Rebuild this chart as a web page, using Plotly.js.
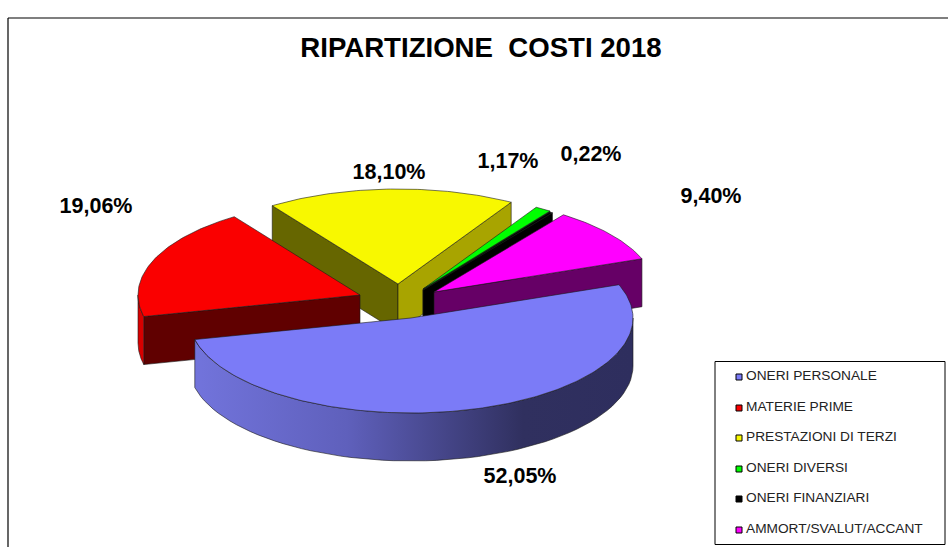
<!DOCTYPE html>
<html><head><meta charset="utf-8">
<script src="https://cdn.plot.ly/plotly-3.0.1.min.js"></script>
<style>html,body{margin:0;padding:0;background:#fff;overflow:hidden}</style>
</head><body><div id="chart" style="width:948px;height:547px"></div>
<script>
// Data
const categories = ["ONERI PERSONALE","MATERIE PRIME","PRESTAZIONI DI TERZI","ONERI DIVERSI","ONERI FINANZIARI","AMMORT/SVALUT/ACCANT"];
const shares = [52.05,19.06,18.10,1.17,0.22,9.40];

// Styles
const topColors  = ["#7B7BF7","#FA0000","#F8F800","#00FF00","#000000","#FF00FF"];
const cutColors  = ["#3A3A78","#600000","#666600","#006600","#000000","#660066"];
const endCutColors = ["#3A3A78","#600000","#A8A400","#006600","#000000","#660066"];
const arcColors  = ["#7B7BF7","#D80000","#A8A400","#00A000","#000000","#A000A0"];

// Geometry (page pixels): each exploded slice's own apex
const apexX = [411,360,398,423,423,434];
const apexY = [318,295,284,289,290,292];
const RX = 222, RY = 95, DEPTH = 48, START = -20.5;
const labelX = [520,96,389,508,591,711];
const labelY = [478,208,174,163,156,198];
const legendMarkX = 739, legendTextX = 746;
const legendY = [377,408,438,469,499,530];
const labelFont = 'Liberation Sans';

const rad = d => d*Math.PI/180;
const px = (i,a) => apexX[i] + RX*Math.cos(rad(a));
const py = (i,a) => apexY[i] + RY*Math.sin(rad(a));
const poly = (color, xs, ys, extra) => Object.assign({
  type:'scatter', mode:'lines', x:xs, y:ys, fill:'toself', fillcolor:color,
  line:{color:'#1a1a1a', width:0.6}, hoverinfo:'skip', showlegend:false
}, extra||{});

const traces = [];
const total = shares.reduce((s,v)=>s+v,0);
let ang = START;
const spans = shares.map(v => { const a0 = ang; ang += v/total*360; return [a0, ang]; });

// painter order: back slices first
[2,3,4,5,1,0].forEach(i => {
  const [a0,a1] = spans[i];
  const cx = apexX[i], cy = apexY[i];
  const cut = (a, color) => {
    const ex = px(i,a), ey = py(i,a);
    traces.push(poly(color,[cx,ex,ex,cx,cx],[cy,ey,ey+DEPTH,cy+DEPTH,cy]));
  };
  if (Math.sin(rad(a0-90)) > 0) cut(a0, cutColors[i]);
  if (Math.sin(rad(a1+90)) > 0) cut(a1, endCutColors[i]);
  // outer wall
  const w0 = Math.max(a0,0), w1 = Math.min(a1,180);
  if (w1 > w0) {
    const xs=[], ys=[];
    for (let a=w0; a<=w1+1e-6; a+=(w1-w0)/60){ xs.push(px(i,a)); ys.push(py(i,a)); }
    for (let k=xs.length-1;k>=0;k--){ xs.push(xs[k]); ys.push(ys[k]+DEPTH); }
    xs.push(xs[0]); ys.push(ys[0]);
    const extra = i===0 ? {fillgradient:{type:'horizontal', start:193, stop:633,
      colorscale:[[0,'#7274DC'],[0.35,'#5F60BC'],[0.75,'#30305F'],[1,'#2E2E5E']]}} : {};
    traces.push(poly(arcColors[i],xs,ys,extra));
  }
  // top face
  const xs=[cx], ys=[cy];
  const n = Math.max(2,Math.ceil(a1-a0));
  for (let k=0;k<=n;k++){ const a=a0+(a1-a0)*k/n; xs.push(px(i,a)); ys.push(py(i,a)); }
  xs.push(cx); ys.push(cy);
  traces.push(poly(topColors[i],xs,ys));
});

// percentage labels
traces.push({type:'scatter', mode:'text', x:labelX, y:labelY,
  text:shares.map(v=>v.toFixed(2).replace('.',',')+'%'),
  textposition:'middle center',
  textfont:{family:labelFont, size:21.5, color:'#000', weight:'bold'},
  hoverinfo:'skip', showlegend:false});

// legend
traces.push({type:'scatter', mode:'markers', x:categories.map(()=>legendMarkX), y:legendY,
  marker:{symbol:'square', size:6, color:topColors, line:{color:'#000', width:1}},
  hoverinfo:'skip', showlegend:false});
traces.push({type:'scatter', mode:'text', x:categories.map(()=>legendTextX), y:legendY,
  text:categories, textposition:'middle right',
  textfont:{family:'Liberation Sans', size:13.7, color:'#222'},
  hoverinfo:'skip', showlegend:false});

const layout = {
  width:948, height:547, margin:{l:0,r:0,t:0,b:0},
  paper_bgcolor:'#fff', plot_bgcolor:'#fff', showlegend:false,
  title:{text:'<b>RIPARTIZIONE  COSTI 2018</b>', x:481/948, xanchor:'center', y:1-47/547, yanchor:'middle',
    font:{family:labelFont, size:27.6, color:'#000'}},
  xaxis:{range:[0,948], visible:false, fixedrange:true},
  yaxis:{range:[547,0], visible:false, fixedrange:true},
  shapes:[
    {type:'line', xref:'x', yref:'y', x0:8, y0:18, x1:8, y1:547, line:{color:'#000', width:1.2}},
    {type:'line', xref:'x', yref:'y', x0:8, y0:18, x1:948, y1:18, line:{color:'#000', width:1.2}},
    {type:'rect', xref:'x', yref:'y', x0:715, y0:361.5, x1:945, y1:544.5, line:{color:'#000', width:1}, fillcolor:'#fff', layer:'below'}
  ]
};
Plotly.newPlot('chart', traces, layout, {displayModeBar:false, staticPlot:true});
</script></body></html>
